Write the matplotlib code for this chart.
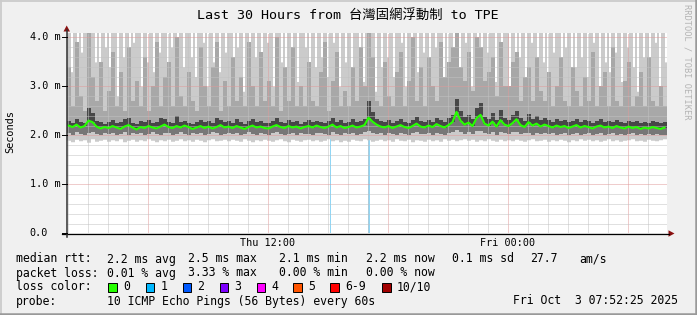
import numpy as np
import matplotlib.pyplot as plt
from matplotlib.patches import Rectangle, Polygon
from matplotlib.lines import Line2D

W, H = 697, 315
MONO = ['DejaVu Sans Mono', 'Noto Sans CJK TC']
plt.rcParams['font.family'] = MONO

# time axis in hours relative to Thu 12:00, one column = 12 min
t_start = -10.075
col_h = 0.2

# ping smoke per column (milliseconds): lowest, 2nd, median, upper-dark, upper
lo = [1.90, 1.87, 1.92, 1.89, 1.91, 1.86, 1.93, 1.88, 1.90, 1.92,
      1.88, 1.91, 1.89, 1.93, 1.87, 1.90, 1.92, 1.88, 1.91, 1.89,
      1.93, 1.90, 1.87, 1.91, 1.89, 1.92, 1.88, 1.90, 1.93, 1.89,
      1.91, 1.88, 1.92, 1.90, 1.87, 1.91, 1.93, 1.89, 1.90, 1.92,
      1.89, 1.92, 1.90, 1.88, 1.93, 1.90, 1.87, 1.91, 1.89, 1.92,
      1.90, 1.88, 1.91, 1.93, 1.89, 1.87, 1.92, 1.90, 1.88, 1.91,
      1.92, 1.89, 1.91, 1.88, 1.90, 1.93, 1.89, 1.91, 1.87, 1.90,
      1.88, 1.92, 1.90, 1.89, 1.93, 1.91, 1.88, 1.90, 1.92, 1.89,
      1.91, 1.88, 1.93, 1.90, 1.89, 1.92, 1.87, 1.91, 1.90, 1.88,
      1.92, 1.89, 1.91, 1.88, 1.93, 1.90, 1.92, 1.89, 1.91, 1.93,
      1.90, 1.92, 1.88, 1.91, 1.89, 1.93, 1.90, 1.88, 1.92, 1.89,
      1.91, 1.89, 1.92, 1.90, 1.88, 1.91, 1.93, 1.89, 1.90, 1.92,
      1.88, 1.91, 1.89, 1.92, 1.90, 1.87, 1.91, 1.89, 1.93, 1.90,
      1.92, 1.89, 1.91, 1.88, 1.90, 1.93, 1.89, 1.91, 1.88, 1.90,
      1.91, 1.93, 1.89, 1.90, 1.88, 1.92, 1.90, 1.89, 1.91, 1.93]
low = [2.04, 2.01, 2.06, 2.03, 2.00, 2.05, 2.07, 2.02, 2.00, 2.04,
       2.02, 2.05, 2.01, 2.03, 2.06, 2.00, 2.04, 2.02, 2.05, 2.01,
       2.03, 2.06, 2.02, 2.00, 2.04, 2.05, 2.01, 2.03, 2.06, 2.02,
       2.00, 2.04, 2.03, 2.05, 2.01, 2.02, 2.06, 2.04, 2.00, 2.03,
       2.05, 2.02, 2.04, 2.01, 2.03, 2.06, 2.02, 2.00, 2.04, 2.03,
       2.01, 2.04, 2.06, 2.02, 2.00, 2.03, 2.05, 2.01, 2.04, 2.02,
       2.03, 2.00, 2.05, 2.04, 2.02, 2.01, 2.06, 2.03, 2.00, 2.04,
       2.02, 2.05, 2.01, 2.03, 2.06, 2.08, 2.04, 2.02, 2.05, 2.01,
       2.04, 2.02, 2.00, 2.05, 2.03, 2.01, 2.04, 2.06, 2.02, 2.03,
       2.05, 2.01, 2.04, 2.03, 2.00, 2.05, 2.07, 2.10, 2.06, 2.03,
       2.06, 2.02, 2.08, 2.09, 2.04, 2.03, 2.06, 2.01, 2.07, 2.04,
       2.03, 2.06, 2.07, 2.02, 2.04, 2.05, 2.01, 2.04, 2.03, 2.05,
       2.02, 2.04, 2.01, 2.03, 2.05, 2.00, 2.03, 2.04, 2.01, 2.02,
       2.04, 2.01, 2.03, 2.05, 2.00, 2.02, 2.04, 2.01, 2.03, 2.00,
       2.02, 2.04, 2.00, 2.03, 2.01, 2.02, 2.00, 2.03, 2.01, 2.00]
med = [2.20, 2.17, 2.22, 2.16, 2.19, 2.30, 2.27, 2.18, 2.14, 2.17,
       2.15, 2.19, 2.16, 2.13, 2.18, 2.21, 2.16, 2.12, 2.17, 2.15,
       2.19, 2.16, 2.14, 2.18, 2.22, 2.17, 2.15, 2.19, 2.16, 2.20,
       2.17, 2.13, 2.16, 2.19, 2.15, 2.18, 2.14, 2.17, 2.21, 2.16,
       2.18, 2.15, 2.19, 2.16, 2.13, 2.17, 2.20, 2.16, 2.18, 2.15,
       2.14, 2.18, 2.21, 2.17, 2.15, 2.19, 2.16, 2.18, 2.14, 2.17,
       2.19, 2.16, 2.20, 2.17, 2.15, 2.18, 2.22, 2.16, 2.19, 2.15,
       2.17, 2.20, 2.16, 2.18, 2.21, 2.36, 2.28, 2.22, 2.18, 2.16,
       2.19, 2.15, 2.18, 2.21, 2.17, 2.15, 2.19, 2.24, 2.18, 2.16,
       2.20, 2.17, 2.23, 2.19, 2.16, 2.21, 2.27, 2.48, 2.30, 2.22,
       2.26, 2.19, 2.35, 2.42, 2.24, 2.20, 2.28, 2.18, 2.31, 2.22,
       2.19, 2.25, 2.33, 2.21, 2.17, 2.27, 2.20, 2.24, 2.18, 2.22,
       2.19, 2.16, 2.20, 2.17, 2.19, 2.15, 2.18, 2.21, 2.16, 2.19,
       2.17, 2.14, 2.18, 2.20, 2.16, 2.18, 2.15, 2.19, 2.16, 2.14,
       2.18, 2.15, 2.17, 2.13, 2.16, 2.14, 2.17, 2.15, 2.13, 2.16]
dark = [2.30, 2.26, 2.34, 2.28, 2.25, 2.55, 2.45, 2.29, 2.27, 2.24,
        2.28, 2.31, 2.25, 2.27, 2.33, 2.36, 2.26, 2.24, 2.29, 2.27,
        2.31, 2.26, 2.28, 2.35, 2.33, 2.27, 2.25, 2.40, 2.28, 2.30,
        2.26, 2.24, 2.28, 2.32, 2.27, 2.29, 2.25, 2.36, 2.31, 2.27,
        2.29, 2.26, 2.33, 2.28, 2.24, 2.30, 2.34, 2.27, 2.29, 2.26,
        2.25, 2.30, 2.36, 2.28, 2.26, 2.31, 2.27, 2.29, 2.24, 2.28,
        2.32, 2.27, 2.30, 2.28, 2.26, 2.29, 2.35, 2.27, 2.31, 2.25,
        2.28, 2.33, 2.27, 2.30, 2.34, 2.70, 2.48, 2.33, 2.29, 2.27,
        2.31, 2.26, 2.30, 2.34, 2.28, 2.26, 2.31, 2.37, 2.29, 2.27,
        2.32, 2.28, 2.36, 2.31, 2.28, 2.35, 2.42, 2.75, 2.50, 2.38,
        2.42, 2.33, 2.55, 2.66, 2.38, 2.34, 2.46, 2.31, 2.52, 2.36,
        2.32, 2.41, 2.50, 2.35, 2.30, 2.44, 2.33, 2.39, 2.31, 2.36,
        2.31, 2.28, 2.33, 2.29, 2.31, 2.27, 2.30, 2.34, 2.28, 2.31,
        2.29, 2.26, 2.30, 2.33, 2.28, 2.30, 2.27, 2.31, 2.28, 2.26,
        2.30, 2.27, 2.29, 2.25, 2.28, 2.26, 2.29, 2.27, 2.25, 2.28]
up = [3.4, 2.6, 3.9, 2.8, 2.5, 4.1, 3.2, 2.7, 3.5, 2.5,
      2.9, 3.7, 2.6, 3.3, 2.5, 3.8, 2.7, 3.1, 2.6, 3.6,
      2.5, 3.0, 3.9, 2.6, 3.2, 3.5, 2.6, 4.0, 2.8, 2.6,
      3.3, 2.7, 2.5, 3.8, 3.0, 2.6, 3.4, 3.9, 2.5, 3.1,
      2.6, 3.6, 2.7, 3.2, 2.6, 3.9, 3.0, 2.6, 3.7, 2.7,
      3.1, 2.6, 4.0, 2.5, 3.4, 2.7, 3.8, 2.6, 3.0, 2.6,
      3.5, 2.7, 2.6, 3.3, 3.9, 2.5, 3.1, 3.7, 2.6, 2.9,
      2.6, 3.4, 2.7, 3.8, 3.0, 4.1, 3.6, 2.7, 2.6, 3.5,
      2.8, 2.6, 3.3, 3.7, 2.6, 3.1, 4.0, 2.7, 3.4, 2.6,
      3.6, 3.0, 2.7, 3.9, 3.2, 3.5, 3.8, 4.1, 3.4, 3.1,
      3.7, 2.9, 4.0, 3.8, 3.1, 3.3, 3.6, 2.8, 3.9, 3.0,
      3.0, 3.5, 3.7, 2.7, 3.2, 3.4, 2.7, 3.6, 2.9, 2.7,
      3.3, 2.6, 3.0, 3.6, 2.7, 2.6, 3.4, 2.9, 2.6, 3.2,
      2.7, 3.7, 2.6, 3.0, 3.3, 2.6, 3.8, 2.7, 2.6, 3.1,
      3.5, 2.6, 2.8, 3.3, 2.6, 3.6, 2.7, 2.6, 3.0, 2.6]
# highest ping, half-column resolution (6 min)
hi = [4.5, 4.5, 3.3, 4.5, 4.5, 3.0, 4.5, 3.7, 4.5, 4.5,
      2.9, 4.5, 4.5, 4.5, 3.5, 4.5, 3.1, 4.5, 4.5, 3.8,
      4.5, 3.4, 4.5, 4.5, 4.5, 2.8, 4.5, 4.5, 3.6, 4.5,
      4.5, 3.2, 4.5, 3.9, 4.5, 4.5, 4.5, 3.0, 4.5, 4.5,
      3.5, 4.5, 4.5, 3.3, 4.5, 4.5, 3.7, 4.5, 4.5, 4.5,
      3.1, 4.5, 3.8, 4.5, 4.5, 2.9, 4.5, 4.5, 3.4, 4.5,
      4.5, 4.5, 3.6, 4.5, 3.2, 4.5, 4.5, 4.5, 3.9, 4.5,
      3.0, 4.5, 4.5, 3.5, 4.5, 4.5, 3.3, 4.5, 4.5, 3.7,
      4.5, 4.5, 4.5, 3.1, 4.5, 3.8, 4.5, 4.5, 2.9, 4.5,
      4.5, 3.4, 4.5, 4.5, 3.6, 4.5, 4.5, 3.2, 4.5, 4.5,
      3.9, 4.5, 4.5, 3.0, 4.5, 4.5, 4.5, 3.5, 4.5, 3.3,
      4.5, 4.5, 3.7, 4.5, 4.5, 3.1, 4.5, 4.5, 4.5, 3.8,
      4.5, 2.9, 4.5, 4.5, 3.4, 4.5, 4.5, 3.6, 4.5, 4.5,
      3.2, 4.5, 4.5, 3.9, 4.5, 4.5, 3.0, 4.5, 4.5, 3.5,
      4.5, 4.5, 3.3, 4.5, 4.5, 4.5, 3.7, 4.5, 3.1, 4.5,
      4.5, 3.8, 4.5, 4.5, 2.9, 4.5, 4.5, 3.4, 4.5, 4.5,
      3.6, 4.5, 4.5, 3.2, 4.5, 4.5, 4.5, 3.9, 4.5, 3.0,
      4.5, 4.5, 3.5, 4.5, 4.5, 3.3, 4.5, 4.5, 3.7, 4.5,
      4.5, 3.1, 4.5, 4.5, 3.8, 4.5, 4.5, 4.5, 2.9, 4.5,
      3.4, 4.5, 4.5, 3.6, 4.5, 4.5, 3.2, 4.5, 4.5, 3.9,
      4.5, 4.5, 3.0, 4.5, 4.5, 3.5, 4.5, 3.3, 4.5, 4.5,
      3.7, 4.5, 4.5, 4.5, 3.1, 4.5, 4.5, 3.8, 4.5, 4.5,
      4.5, 2.9, 4.5, 4.5, 3.4, 4.5, 3.6, 4.5, 4.5, 3.2,
      4.5, 4.5, 3.9, 4.5, 4.5, 3.0, 4.5, 4.5, 3.5, 4.5,
      3.3, 4.5, 4.5, 3.7, 4.5, 4.5, 4.5, 3.1, 4.5, 3.8,
      4.5, 4.5, 2.9, 4.5, 3.4, 4.5, 4.5, 3.6, 4.5, 4.5,
      3.2, 4.5, 4.5, 3.9, 4.5, 4.5, 3.0, 4.5, 4.5, 3.5,
      4.5, 3.3, 4.5, 4.5, 3.7, 4.5, 4.5, 3.1, 4.5, 4.5,
      3.8, 4.5, 4.5, 3.4, 4.5, 2.9, 4.5, 4.5, 3.6, 4.5,
      4.5, 3.2, 4.5, 4.5, 3.9, 4.5, 3.0, 4.5, 4.5, 3.5]

# packet loss events (hours rel. Thu 12:00), 1 of 10 lost
loss_hours = [3.10, 5.00, 5.05]

x_ticks = [0, 12]
x_ticklabels = ['Thu 12:00', 'Fri 00:00']
y_ticks = [0, 1, 2, 3, 4]
y_ticklabels = ['0.0', '1.0 m', '2.0 m', '3.0 m', '4.0 m']

title = 'Last 30 Hours from 台灣固網浮動制 to TPE'
rtt_stats = ['2.2 ms avg', '2.5 ms max', '2.1 ms min', '2.2 ms now', '0.1 ms sd', '27.7', 'am/s']
loss_stats = ['0.01 % avg', '3.33 % max', '0.00 % min', '0.00 % now']
loss_labels = ['0', '1', '2', '3', '4', '5', '6-9', '10/10']
loss_colors = ['#26ff00', '#00b8ff', '#0059ff', '#7e00ff', '#ff00ff', '#ff5500', '#ff0000', '#a10000']
probe_text = '10 ICMP Echo Pings (56 Bytes) every 60s'
stamp = 'Fri Oct  3 07:52:25 2025'


def fx(x):
    return x / W


def fy(y):
    return 1 - y / H


def st(a):
    return np.append(a, a[-1])


n = len(med)
t = t_start + col_h * np.arange(n + 1)
t_hi = t_start + col_h / 2 * np.arange(len(hi) + 1)
centers = t_start + col_h * (np.arange(n) + 0.5)
lo_fine = np.repeat(lo, 2)

fig = plt.figure(figsize=(W / 100, H / 100), dpi=100, facecolor='#f0f0f0')
ax = fig.add_axes([fx(66.5), fy(233.3), 600 / W, 200.3 / H])
ax.set_facecolor('white')
ax.set_xlim(t_start, t_start + 30)
ax.set_ylim(0, 4.09)
for s in ax.spines.values():
    s.set_visible(False)
ax.set_xticks([])
ax.set_yticks([])

# loss bars under the smoke
for h in loss_hours:
    k = int((h - t_start) / col_h)
    ax.vlines(h, 0, med[k], color='#90d6f5', lw=0.72, zorder=1)

# smoke
ax.fill_between(t_hi, st(lo_fine), st(hi), step='post', color='#cbcbcb', lw=0, zorder=2)
ax.fill_between(t, st(low), st(up), step='post', color='#a8a8a8', lw=0, zorder=2)
ax.fill_between(t, st(low), st(med), step='post', color='#777777', lw=0, zorder=2)
ax.fill_between(t, st(med), st(dark), step='post', color='#474747', lw=0, zorder=2)

# grid on top of the data
for h in range(-10, 20):
    major = h % 6 == 0
    ax.axvline(h, color='#e09a9a' if major else '#c2c2c2', lw=0.72, ls=(0, (1, 1)), zorder=3)
for v in np.arange(0.2, 4.05, 0.2):
    major = abs(v - round(v)) < 1e-6
    ax.axhline(v, color='#e09a9a' if major else '#c2c2c2', lw=0.72, ls=(0, (1, 1)), zorder=3)

# median
ax.plot(centers, med, color='#26ff00', lw=1.5, zorder=4)

# axes lines and arrows
fig.add_artist(Line2D([fx(62), fx(669)], [fy(233.5), fy(233.5)], color='black', lw=0.9))
fig.add_artist(Line2D([fx(66.7), fx(66.7)], [fy(30), fy(237)], color='#303030', lw=1.1))
fig.add_artist(Polygon([(fx(63.5), fy(31.5)), (fx(66.7), fy(25.5)), (fx(70), fy(31.5))],
                       closed=True, color='#8b1010', lw=0))
fig.add_artist(Polygon([(fx(668.5), fy(230.3)), (fx(674.5), fy(233.5)), (fx(668.5), fy(236.7))],
                       closed=True, color='#8b1010', lw=0))

# tick labels
for v, lab in zip(y_ticks, y_ticklabels):
    yp = 233.3 - v * 200.3 / 4.09
    fig.add_artist(Line2D([fx(62), fx(66.5)], [fy(yp), fy(yp)], color='black', lw=0.7))
    fig.text(fx(29.5), fy(yp), lab, ha='left', va='center', fontsize=7.3)
for h, lab in zip(x_ticks, x_ticklabels):
    fig.text(fx(268 + h * 20), fy(243), lab, ha='center', va='center', fontsize=7.3)

fig.text(fx(348), fy(15), title, ha='center', va='center', fontsize=9.6, family=MONO)
fig.text(fx(10.5), fy(132), 'Seconds', rotation=90, ha='center', va='center', fontsize=7.4)
fig.text(fx(687), fy(4), 'RRDTOOL / TOBI OETIKER', rotation=270, ha='center', va='top',
         fontsize=6.2, color='#b4b4b4')

# legend block
lf = 8.3
fig.text(fx(16), fy(259), 'median rtt:', ha='left', va='center', fontsize=lf)
for x, s in zip([107, 188, 279, 366, 452, 530, 579], rtt_stats):
    fig.text(fx(x), fy(259), s, ha='left', va='center', fontsize=lf)
fig.text(fx(16), fy(273), 'packet loss:', ha='left', va='center', fontsize=lf)
for x, s in zip([107, 188, 279, 366], loss_stats):
    fig.text(fx(x), fy(273), s, ha='left', va='center', fontsize=lf)
fig.text(fx(16), fy(287), 'loss color:', ha='left', va='center', fontsize=lf)
for x, lab, c in zip([108, 145.5, 182.5, 219.5, 256.5, 293, 330, 382], loss_labels, loss_colors):
    fig.add_artist(Rectangle((fx(x), fy(291.5)), 8.5 / W, 8.5 / H, facecolor=c,
                             edgecolor='black', lw=0.7))
    fig.text(fx(x + 15), fy(287), lab, ha='left', va='center', fontsize=lf)
fig.text(fx(16), fy(301), 'probe:', ha='left', va='center', fontsize=lf)
fig.text(fx(107), fy(301), probe_text, ha='left', va='center', fontsize=lf)
fig.text(fx(513), fy(301), stamp, ha='left', va='center', fontsize=lf)

# 3d frame
fig.add_artist(Line2D([0, 1], [fy(0.8), fy(0.8)], color='#cbcbcb', lw=1.3))
fig.add_artist(Line2D([fx(0.8), fx(0.8)], [0, 1], color='#cbcbcb', lw=1.3))
fig.add_artist(Line2D([0, 1], [fy(313.8), fy(313.8)], color='#999999', lw=1.8))
fig.add_artist(Line2D([fx(695.8), fx(695.8)], [0, 1], color='#999999', lw=1.8))

fig.savefig('out.png', dpi=100, facecolor=fig.get_facecolor())
